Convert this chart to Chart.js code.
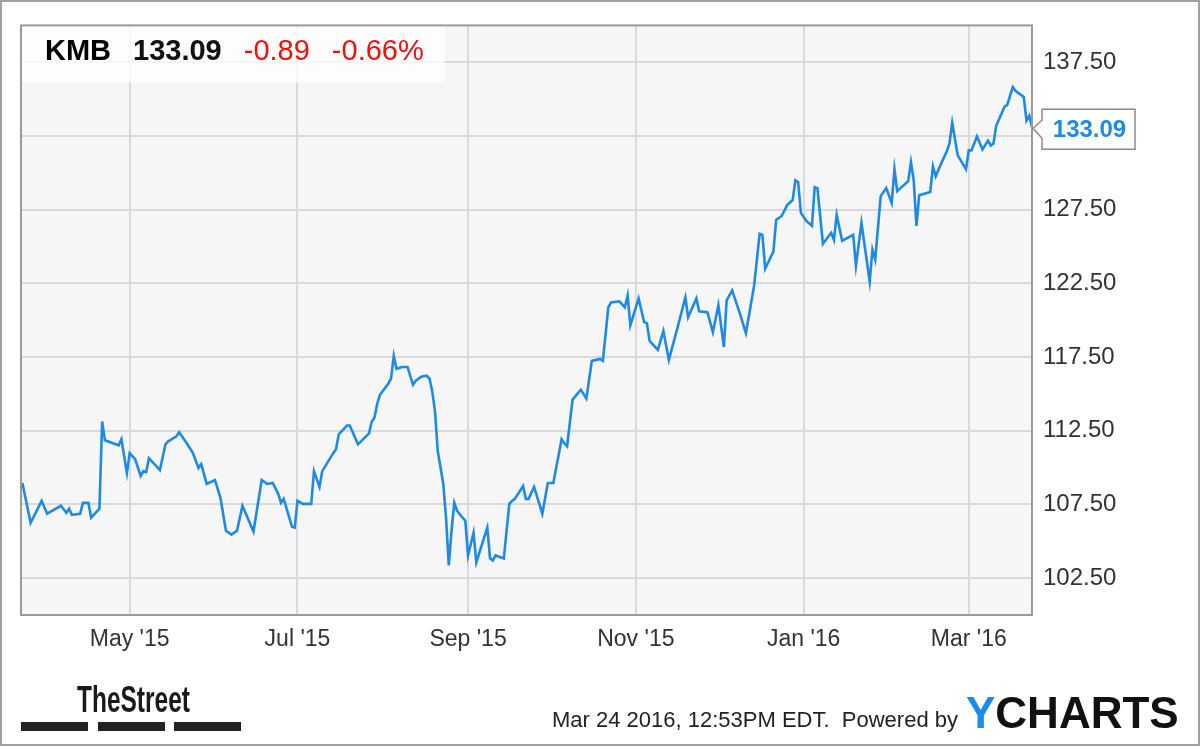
<!DOCTYPE html>
<html>
<head>
<meta charset="utf-8">
<script src="https://cdn.jsdelivr.net/npm/chart.js@4.4.1/dist/chart.umd.min.js"></script>
<style>
  html, body { margin: 0; padding: 0; background: #fff; }
  #wrap { width: 1200px; height: 747px; position: relative; }
</style>
</head>
<body>
<div id="wrap"><canvas id="kmbChart" width="1200" height="747"></canvas></div>
<script>
  // day 0 = Mar 24 2015, prices
  const tradeDays = [
    -1, 2, 6, 8, 13, 15, 16, 17, 20, 21,
    23, 24, 27, 28, 29, 34, 35, 37, 38, 40,
    42, 43, 44, 45, 49, 51, 52, 55, 56, 59,
    61, 63, 64, 66, 69, 71, 73, 75, 77, 79,
    83, 86, 88, 90, 92, 93, 94, 97, 98, 99,
    101, 104, 105, 107, 108, 112, 113, 114, 117, 118,
    121, 125, 126, 127, 128, 129, 132, 133, 134, 135,
    137, 139, 141, 142, 144, 146, 147, 148, 149, 150,
    152, 153, 154, 155, 156, 157, 159, 160, 161, 163,
    164, 168, 169, 170, 171, 174, 176, 177, 178, 181,
    182, 183, 185, 188, 190, 192, 195, 196, 197, 199,
    202, 204, 206, 209, 210, 212, 213, 216, 218, 219,
    220, 223, 225, 226, 227, 230, 232, 234, 237, 240,
    241, 244, 245, 248, 250, 252, 254, 255, 257, 260,
    262, 265, 267, 268, 269, 272, 273, 275, 277, 279,
    280, 281, 282, 284, 286, 287, 288, 290, 293, 294,
    295, 297, 301, 302, 304, 307, 308, 309, 311, 313,
    315, 316, 317, 321, 322, 323, 324, 325, 329, 330,
    331, 333, 335, 336, 337, 339, 342, 343, 344, 346,
    348, 350, 351, 352, 353, 356, 357, 359, 360, 363,
    364, 365, 366,
  ];
  const closePrices = [
    108.96, 106.26, 107.74, 106.87, 107.41, 106.94, 107.21, 106.8, 106.87, 107.61,
    107.61, 106.6, 107.21, 113.13, 111.85, 111.51, 111.92, 109.63, 110.98, 110.57,
    109.43, 109.76, 109.7, 110.64, 109.83, 111.58, 111.78, 112.12, 112.39, 111.58,
    110.98, 109.97, 110.24, 108.89, 109.16, 107.95, 105.72, 105.45, 105.72, 107.41,
    105.66, 109.16, 108.89, 108.96, 108.22, 107.61, 107.88, 105.99, 105.93, 107.74,
    107.54, 107.54, 109.76, 108.69, 109.76, 110.98, 111.25, 112.26, 112.86, 112.86,
    111.58, 112.32, 113.13, 113.4, 114.34, 114.95, 115.69, 116.03, 117.58, 116.7,
    116.83, 116.83, 115.62, 115.89, 116.16, 116.23, 116.03, 115.15, 113.8, 111.11,
    108.89, 106.6, 103.37, 105.72, 107.61, 107.07, 106.6, 106.4, 104.04, 105.59,
    103.57, 105.93, 103.84, 103.7, 104.04, 103.84, 107.54, 107.74, 107.88, 108.75,
    107.88, 107.88, 108.69, 106.87, 108.96, 108.96, 111.92, 111.65, 111.45, 114.61,
    115.29, 114.68, 117.24, 117.37, 117.24, 120.88, 121.21, 121.28, 120.88, 121.68,
    119.66, 121.48, 119.87, 119.8, 118.59, 117.98, 119.26, 117.31, 119.39, 121.55,
    120.2, 121.48, 120.61, 120.54, 119.19, 121.01, 118.18, 121.35, 122.02, 120.34,
    119.12, 122.36, 125.86, 125.79, 123.5, 124.65, 126.8, 127.07, 127.81, 128.15,
    129.49, 129.36, 127.27, 126.73, 126.4, 129.02, 128.96, 125.19, 125.93, 125.45,
    127.14, 125.39, 125.79, 123.7, 126.6, 122.63, 124.78, 124.11, 128.42, 128.96,
    127.95, 130.24, 128.75, 129.43, 130.71, 129.49, 126.4, 128.48, 128.69, 130.44,
    129.76, 130.64, 131.45, 131.99, 133.4, 131.18, 130.24, 131.52, 131.52, 132.46,
    131.58, 132.19, 131.85, 131.99, 133.2, 134.48, 134.61, 135.82, 135.56, 135.15,
    133.54, 133.87, 133.09,
  ];
  const tickDays = [38, 99, 161, 222, 283, 343];
  const tickLabels = ["May '15", "Jul '15", "Sep '15", "Nov '15", "Jan '16", "Mar '16"];
  const yTicks = [102.5, 107.5, 112.5, 117.5, 122.5, 127.5, 132.5, 137.5];

  const ticker = "KMB";
  const lastPrice = "133.09";
  const change = "-0.89";
  const changePct = "-0.66%";
  const stamp = "Mar 24 2016, 12:53PM EDT.  Powered by";

  const FONT = '"Liberation Sans", Arial, sans-serif';
  const lineBlue = "#1e8ae6";

  const points = tradeDays.map((d, i) => ({ x: d, y: closePrices[i] }));

  const decor = {
    id: "decor",
    beforeDraw(chart) {
      const { ctx, chartArea: a } = chart;
      ctx.save();
      ctx.fillStyle = "#fff";
      ctx.fillRect(0, 0, chart.width, chart.height);
      ctx.fillStyle = "#f6f6f6";
      ctx.fillRect(a.left, a.top, a.right - a.left, a.bottom - a.top);
      ctx.restore();
    },
    beforeDatasetsDraw(chart) {
      const { ctx, chartArea: a } = chart;
      ctx.save();
      // header strip, gridlines still faintly visible through it
      ctx.fillStyle = "rgba(255,255,255,0.75)";
      ctx.fillRect(a.left, a.top, 424, 57);
      ctx.textBaseline = "alphabetic";
      let x = 45;
      const parts = [
        [ticker, "bold", "#000"],
        [lastPrice, "bold", "#111"],
        [change, "normal", "#f01010"],
        [changePct, "normal", "#f01010"],
      ];
      parts.forEach(([t, w, c]) => {
        ctx.font = w + " 29px " + FONT;
        ctx.fillStyle = c;
        ctx.fillText(t, x, 60);
        x += ctx.measureText(t).width + 22;
      });
      ctx.restore();
    },
    afterDraw(chart) {
      const { ctx, chartArea: a } = chart;
      const yScale = chart.scales.y;
      ctx.save();
      // plot frame
      ctx.strokeStyle = "#9a9a9a";
      ctx.lineWidth = 2;
      ctx.strokeRect(a.left, a.top, a.right - a.left, a.bottom - a.top);
      // outer card border
      ctx.strokeStyle = "#a0a0a0";
      ctx.lineWidth = 2;
      ctx.strokeRect(1, 1, chart.width - 2, 744);

      // last price callout
      const last = closePrices[closePrices.length - 1];
      const ty = yScale.getPixelForValue(last);
      const L = a.right + 10, R = a.right + 103;
      ctx.beginPath();
      ctx.moveTo(L, ty - 18);
      ctx.lineTo(R, ty - 18);
      ctx.lineTo(R, ty + 22);
      ctx.lineTo(L, ty + 22);
      ctx.lineTo(L, ty + 11);
      ctx.lineTo(a.right + 1, ty + 1);
      ctx.lineTo(L, ty - 7);
      ctx.closePath();
      ctx.fillStyle = "#fff";
      ctx.fill();
      ctx.strokeStyle = "#8a8a8a";
      ctx.lineWidth = 1.5;
      ctx.stroke();
      ctx.fillStyle = lineBlue;
      ctx.font = "bold 24px " + FONT;
      ctx.textAlign = "center";
      ctx.textBaseline = "middle";
      ctx.fillText(last.toFixed(2), (L + R) / 2 + 1, ty + 3);

      // TheStreet logo
      ctx.textAlign = "left";
      ctx.textBaseline = "alphabetic";
      ctx.fillStyle = "#1a1a1a";
      ctx.save();
      ctx.translate(77, 712);
      ctx.scale(0.68, 1);
      ctx.font = "bold 36px " + FONT;
      ctx.fillText("TheStreet", 0, 0);
      ctx.restore();
      ctx.fillStyle = "#222";
      [[21, 67], [98, 67], [174, 67]].forEach(([bx, bw]) => ctx.fillRect(bx, 722, bw, 9));

      // footer stamp + YCHARTS
      ctx.fillStyle = "#222";
      ctx.font = "22px " + FONT;
      ctx.fillText(stamp, 552, 727);
      ctx.font = "bold 44px " + FONT;
      ctx.fillStyle = "#1a8cf0";
      ctx.fillText("Y", 966, 728);
      const yw = ctx.measureText("Y").width;
      ctx.fillStyle = "#111";
      ctx.fillText("CHARTS", 966 + yw, 728);
      ctx.restore();
    },
  };

  const ctx = document.getElementById("kmbChart").getContext("2d");
  new Chart(ctx, {
    type: "line",
    data: {
      datasets: [
        {
          label: ticker,
          data: points,
          borderColor: lineBlue,
          borderWidth: 2.6,
          pointRadius: 0,
          tension: 0,
          fill: false,
        },
      ],
    },
    options: {
      responsive: false,
      animation: false,
      devicePixelRatio: 1,
      layout: { padding: { left: 21, top: 21, right: 0, bottom: 0 } },
      plugins: {
        legend: { display: false },
        tooltip: { enabled: false },
      },
      scales: {
        x: {
          type: "linear",
          min: -1.5,
          max: 366,
          afterBuildTicks: (s) => {
            s.ticks = tickDays.map((v) => ({ value: v }));
          },
          afterFit: (s) => {
            s.height = 132;
          },
          grid: { color: "#dadada", lineWidth: 2, drawTicks: false },
          border: { display: false },
          ticks: {
            autoSkip: false,
            maxRotation: 0,
            padding: 11,
            color: "#333",
            font: { family: FONT, size: 23 },
            callback: (v) => tickLabels[tickDays.indexOf(v)],
          },
        },
        y: {
          position: "right",
          min: 100,
          max: 140,
          afterBuildTicks: (s) => {
            s.ticks = yTicks.map((v) => ({ value: v }));
          },
          afterFit: (s) => {
            s.width = 168;
          },
          grid: { color: "#dadada", lineWidth: 2, drawTicks: false },
          border: { display: false },
          ticks: {
            padding: 11,
            color: "#333",
            font: { family: FONT, size: 24 },
            callback: (v) => Number(v).toFixed(2),
          },
        },
      },
    },
    plugins: [decor],
  });
</script>
</body>
</html>
